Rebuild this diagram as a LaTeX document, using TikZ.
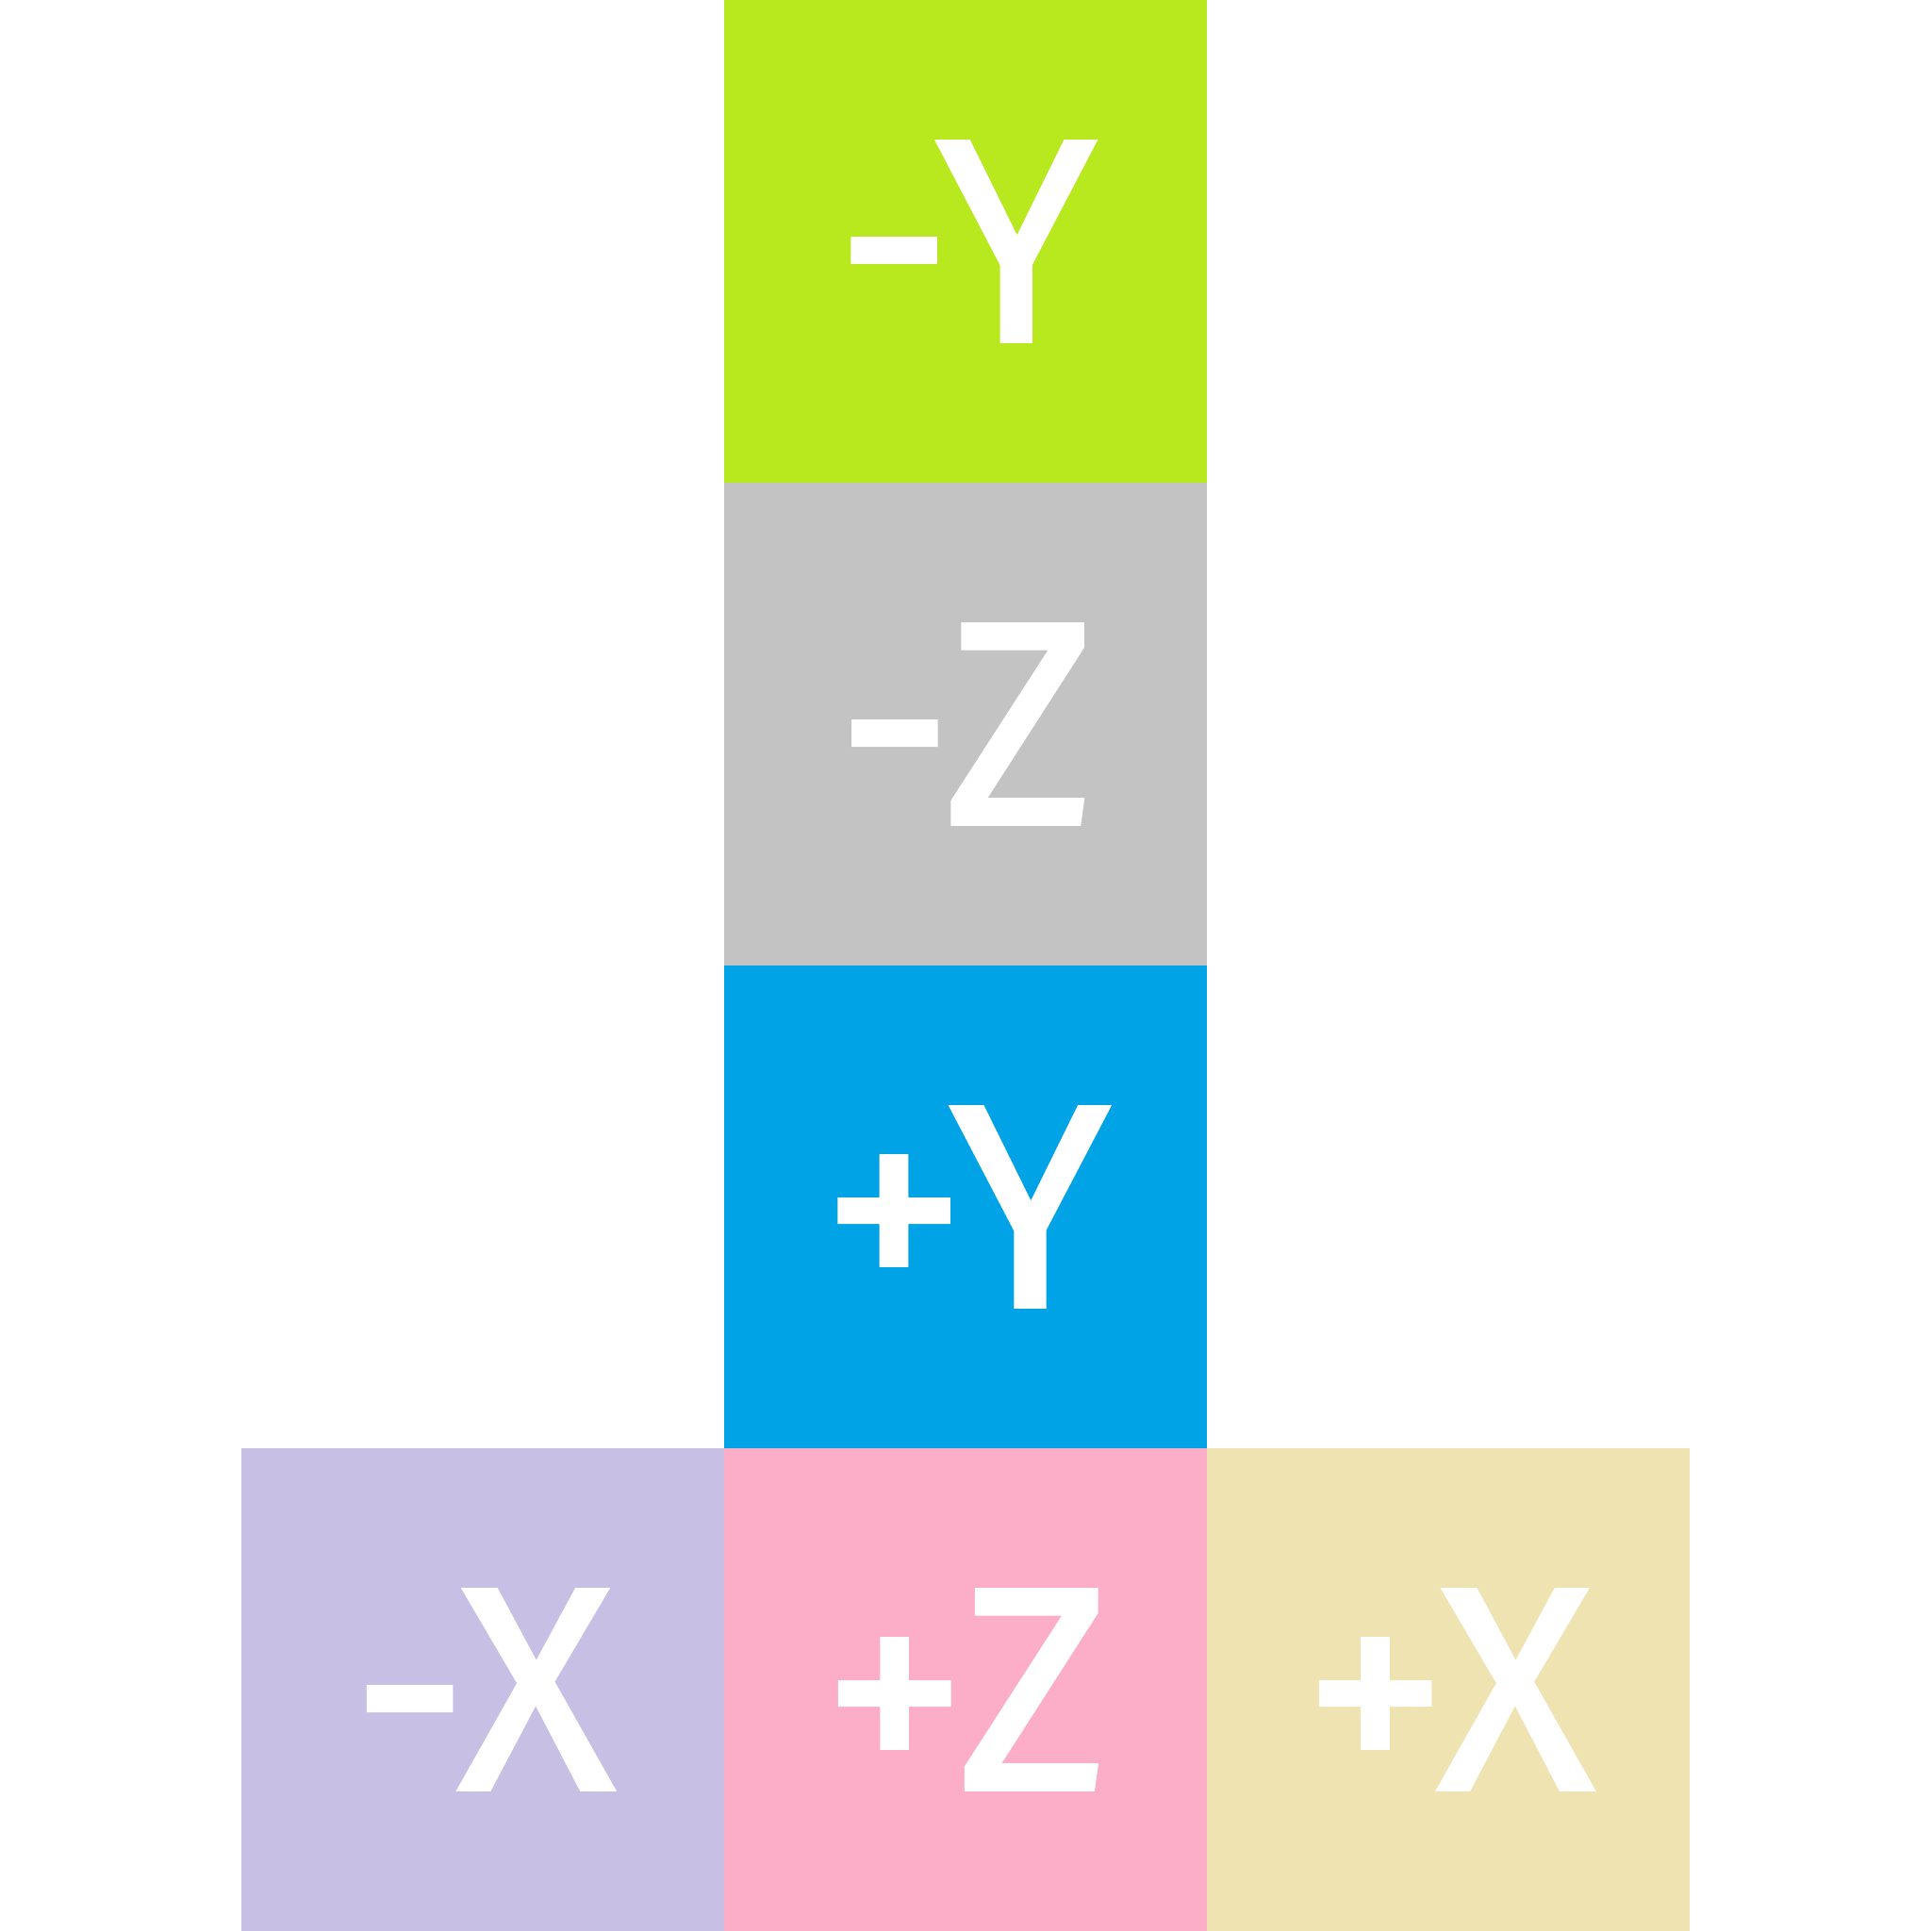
\documentclass[tikz,border=0pt]{standalone}
\usepackage{fontspec}
\newfontfamily\facefont[FakeBold=1.6]{Fira Sans}
\usepackage{xcolor}
\usetikzlibrary{positioning}

\definecolor{ynegcol}{HTML}{B8E81E}
\definecolor{znegcol}{HTML}{C3C3C3}
\definecolor{yposcol}{HTML}{00A3E6}
\definecolor{xnegcol}{HTML}{C8BFE4}
\definecolor{zposcol}{HTML}{FCAEC8}
\definecolor{xposcol}{HTML}{EFE3B2}

\begin{document}
\begin{tikzpicture}[
  face/.style={rectangle, minimum size=4cm, inner sep=0pt, outer sep=0pt,
    text=white, font=\facefont\fontsize{68}{68}\selectfont}]
  \useasboundingbox (0,0) rectangle (16,16);
%faces
  \node[face, fill=ynegcol] (yneg) at (8,14) {-Y};
  \node[face, fill=znegcol, below=0pt of yneg] (zneg) {-Z};
  \node[face, fill=yposcol, below=0pt of zneg] (ypos) {+Y};
  \node[face, fill=zposcol, below=0pt of ypos] (zpos) {+Z};
  \node[face, fill=xnegcol, left=0pt of zpos] (xneg) {-X};
  \node[face, fill=xposcol, right=0pt of zpos] (xpos) {+X};
\end{tikzpicture}
\end{document}
